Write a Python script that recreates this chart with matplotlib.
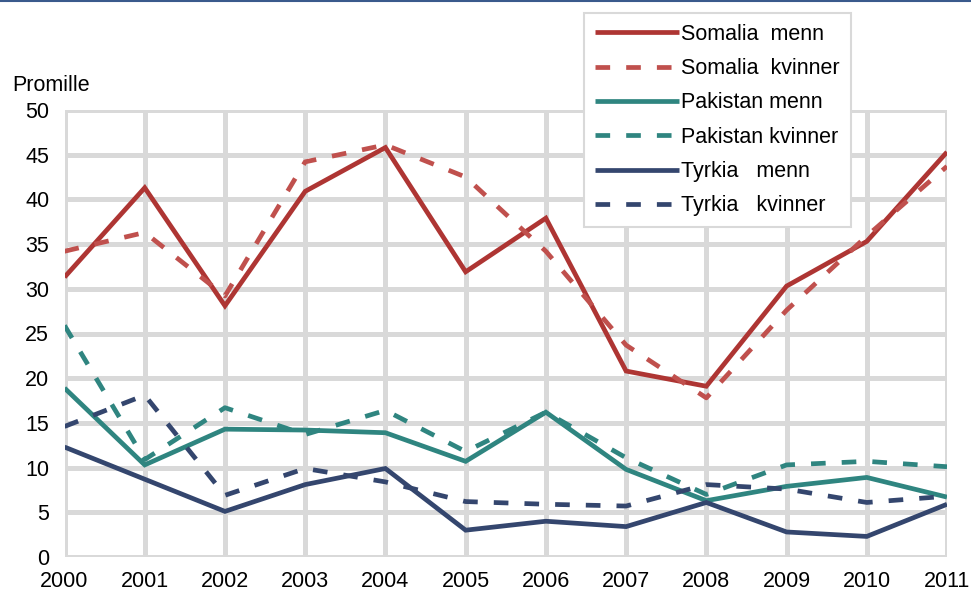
import matplotlib
matplotlib.use("Agg")
import matplotlib.pyplot as plt
from matplotlib.lines import Line2D

plt.rcParams['font.family'] = ['Liberation Sans', 'DejaVu Sans']

years = list(range(2000, 2012))

somalia_menn = [31.3, 41.3, 28.1, 40.9, 45.8, 31.9, 37.9, 20.8, 19.1, 30.3, 35.3, 45.3]
somalia_kvinner = [34.2, 36.3, 29.2, 44.2, 46.1, 42.5, 34.2, 23.7, 17.8, 27.6, 35.9, 43.7]
pakistan_menn = [18.9, 10.3, 14.3, 14.2, 13.9, 10.7, 16.2, 9.8, 6.3, 7.9, 8.9, 6.7]
pakistan_kvinner = [25.9, 10.9, 16.7, 13.7, 16.4, 11.8, 16.2, 11.1, 7.0, 10.3, 10.7, 10.1]
tyrkia_menn = [12.3, 8.7, 5.1, 8.1, 9.9, 3.0, 4.0, 3.4, 6.1, 2.8, 2.3, 5.9]
tyrkia_kvinner = [14.6, 18.1, 6.9, 9.9, 8.4, 6.2, 5.9, 5.7, 8.1, 7.6, 6.1, 6.8]

labels = ["Somalia  menn", "Somalia  kvinner", "Pakistan menn",
          "Pakistan kvinner", "Tyrkia   menn", "Tyrkia   kvinner"]
y_ticks = [0, 5, 10, 15, 20, 25, 30, 35, 40, 45, 50]

red, red_light = "#AE3533", "#C0504D"
teal = "#2F8580"
navy = "#34466E"
grid_col = "#D9D9D9"
fs = 15.5

fig = plt.figure(figsize=(9.71, 5.90), dpi=100)
ax = fig.add_axes([64.5 / 971, 1 - 557 / 590, (947 - 64.5) / 971, (557 - 110) / 590])

series = [
    (somalia_menn, red, '-'),
    (somalia_kvinner, red_light, '--'),
    (pakistan_menn, teal, '-'),
    (pakistan_kvinner, teal, '--'),
    (tyrkia_menn, navy, '-'),
    (tyrkia_kvinner, navy, '--'),
]
handles = []
for (vals, col, ls), lab in zip(series, labels):
    if ls == '-':
        ln, = ax.plot(years, vals, color=col, lw=3.4, solid_joinstyle='miter',
                      solid_capstyle='butt', label=lab, zorder=3)
    else:
        ln, = ax.plot(years, vals, color=col, lw=3.4, dashes=(3.1, 3.4),
                      dash_capstyle='butt', label=lab, zorder=3)
    handles.append(ln)

ax.set_xlim(2000, 2011)
ax.set_ylim(0, 50)
ax.set_xticks(years)
ax.set_xticklabels([str(y) for y in years])
ax.set_yticks(y_ticks)
ax.grid(True, color=grid_col, lw=3.6, zorder=0)
ax.set_axisbelow(True)
for s in ax.spines.values():
    s.set_visible(False)
ax.tick_params(length=0, labelsize=fs, colors='black')
ax.tick_params(axis='y', pad=11)
ax.tick_params(axis='x', pad=10)
for lab in ax.get_xticklabels() + ax.get_yticklabels():
    lab.set_clip_on(False)

fig.text(12 / 971, 1 - 85 / 590, "Promille", fontsize=fs, ha='left', va='center')

leg = ax.legend(handles=handles, loc='upper left',
                bbox_to_anchor=(584 / 971, 1 - 13 / 590), bbox_transform=fig.transFigure,
                fontsize=fs, frameon=True, fancybox=False, edgecolor=grid_col,
                framealpha=1.0, handlelength=3.9, handletextpad=0.12,
                labelspacing=0.62, borderpad=0.5, borderaxespad=0)
leg.get_frame().set_linewidth(1.5)
leg.set_zorder(5)

fig.add_artist(Line2D([0, 1], [1 - 1 / 590, 1 - 1 / 590], transform=fig.transFigure,
                      color="#3A5A8C", lw=1.5))

fig.savefig("out.png", dpi=100)
